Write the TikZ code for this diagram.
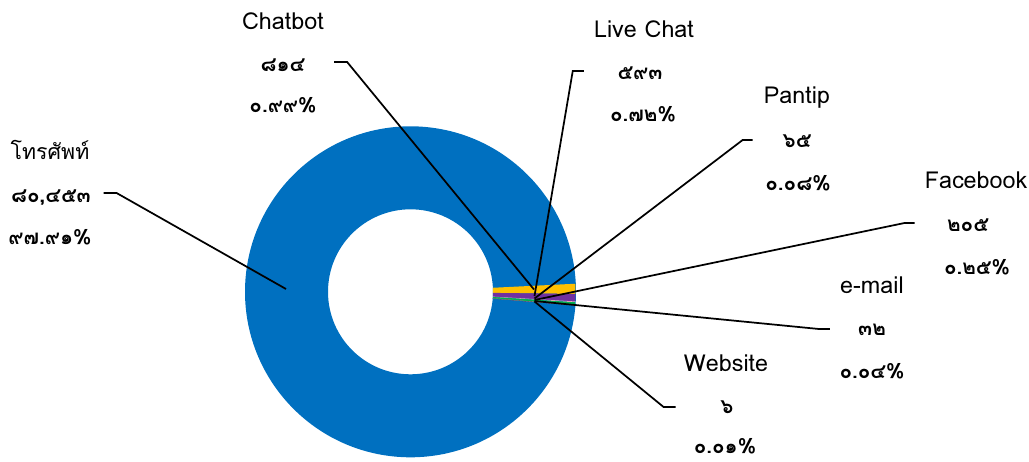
\documentclass[tikz,border=0pt]{standalone}
\usepackage{fontspec}
\setmainfont{Loma}[Script=Thai]
\usetikzlibrary{calc}
\definecolor{ringblue}{HTML}{0070C0}
\definecolor{chatyellow}{HTML}{FFC000}
\definecolor{livepurple}{HTML}{7030A0}
\definecolor{pantippink}{HTML}{F4A6BE}
\definecolor{fbgreen}{HTML}{00B050}
\definecolor{emailgray}{HTML}{A5A5A5}
\definecolor{webred}{HTML}{C00000}
\tikzset{
  lblname/.style={font=\fontsize{17.5}{20}\selectfont, anchor=base, inner sep=0pt},
  lblthai/.style={font=\fontsize{16}{19}\selectfont, anchor=base, inner sep=0pt},
  lblval/.style={font=\fontsize{15.5}{18}\selectfont\bfseries, anchor=base, inner sep=0pt},
  leader/.style={draw=black, line width=1.3pt},
}
\newcommand\ringslice[3]{%
  \fill[#1] ($(c)+(#2:165)$) arc[start angle=#2, end angle=#3, radius=165]
    -- ($(c)+(#3:82.5)$) arc[start angle=#3, end angle=#2, radius=82.5] -- cycle;}
\begin{document}
\begin{tikzpicture}[x=0.75pt,y=-0.75pt]
\useasboundingbox (0,0) rectangle (1029,461);
\coordinate (c) at (410.5,291.8);
% ring
\fill[ringblue, even odd rule] (c) circle[radius=165.5] (c) circle[radius=82.5];
\ringslice{chatyellow}{-2.8}{0.76}
\ringslice{livepurple}{0.76}{3.35}
\ringslice{pantippink}{3.35}{3.64}
\ringslice{fbgreen}{3.64}{4.54}
\ringslice{emailgray}{4.54}{4.68}
\ringslice{webred}{4.68}{4.72}
% leader anchor points
\coordinate (aphone) at (286,289);
\coordinate (achat) at (534,289.5);
\coordinate (alive) at (534.5,296);
\coordinate (apan) at (534.5,298.5);
\coordinate (afb) at (534.5,300);
\coordinate (aem) at (534.5,301);
\coordinate (aweb) at (534.5,301.5);
% labels
\node[lblthai] (nphone) at (50,159) {โทรศัพท์};
\node[lblval] (vphone) at (51,202) {๘๐,๔๕๓};
\node[lblval] (pphone) at (50,244) {๙๗.๙๑\%};
\node[lblname] (nchat) at (283,29) {Chatbot};
\node[lblval] (vchat) at (283,71) {๘๑๔};
\node[lblval] (pchat) at (283,112) {๐.๙๙\%};
\node[lblname] (nlive) at (644,37) {Live Chat};
\node[lblval] (vlive) at (640,79) {๕๙๓};
\node[lblval] (plive) at (643,121) {๐.๗๒\%};
\node[lblname] (npan) at (797,103) {Pantip};
\node[lblval] (vpan) at (797,147) {๖๕};
\node[lblval] (ppan) at (798,190) {๐.๐๘\%};
\node[lblname] (nfb) at (976,188) {Facebook};
\node[lblval] (vfb) at (968,231) {๒๐๕};
\node[lblval] (pfb) at (977,274) {๐.๒๕\%};
\node[lblname] (nem) at (872,293) {e-mail};
\node[lblval] (vem) at (872,335) {๓๒};
\node[lblval] (pem) at (872,378) {๐.๐๔\%};
\node[lblname] (nweb) at (726,371) {Website};
\node[lblval] (vweb) at (727,413) {๖};
\node[lblval] (pweb) at (725,453) {๐.๐๑\%};
% leaders
\draw[leader] ($(nphone.east |- vphone.base)+(14,-9)$) -- ++(13,0) -- (aphone);
\draw[leader] ($(nchat.east |- vchat.base)+(10,-9)$) -- ++(13,0) -- (achat);
\draw[leader] ($(nlive.west |- vlive.base)+(-10,-8)$) -- ++(-11,0) -- (alive);
\draw[leader] ($(npan.west |- vpan.base)+(-11,-7)$) -- ++(-10,0) -- (apan);
\draw[leader] ($(nfb.west |- vfb.base)+(-10,-8)$) -- ++(-10,0) -- (afb);
\draw[leader] ($(nem.west |- vem.base)+(-10,-6)$) -- ++(-11,0) -- (aem);
\draw[leader] ($(nweb.west |- vweb.base)+(-8,-6)$) -- ++(-12,0) -- (aweb);
\end{tikzpicture}
\end{document}
